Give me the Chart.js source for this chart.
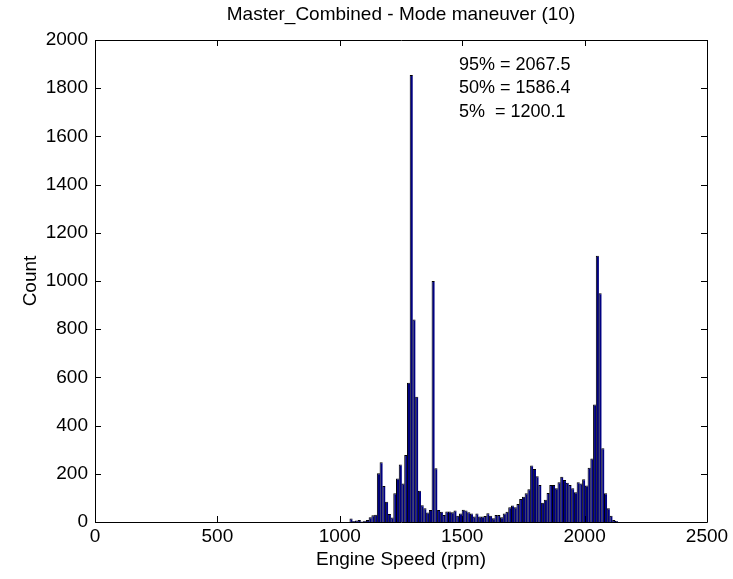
<!DOCTYPE html>
<html>
<head>
<meta charset="utf-8">
<script src="https://cdn.jsdelivr.net/npm/chart.js@4"></script>
<style>
  html, body { margin: 0; padding: 0; background: #fff; }
  #wrap { width: 733px; height: 579px; }
</style>
</head>
<body>
<div id="wrap"><canvas id="histChart" width="733" height="579"></canvas></div>
<script>
// histogram bins (rpm): first bin centre and width
const binStart = 1046;
const binWidth = 11.18;

// counts per bin
const counts = [
  15, 4, 6, 8, 2, 5, 8, 20, 28, 30,
  202, 248, 149, 84, 33, 19, 119, 181, 239, 160,
  278, 578, 1855, 840, 520, 130, 70, 57, 39, 50,
  1000, 223, 50, 43, 29, 44, 44, 40, 48, 26,
  35, 51, 48, 40, 35, 23, 35, 23, 23, 25,
  36, 26, 16, 29, 29, 20, 35, 43, 61, 68,
  61, 75, 95, 105, 119, 136, 234, 220, 190, 154,
  80, 92, 120, 154, 154, 140, 165, 188, 174, 163,
  154, 140, 123, 165, 160, 177, 151, 225, 264, 488,
  1105, 949, 306, 119, 57, 26, 8, 4
];

const xTicks = [0, 500, 1000, 1500, 2000, 2500];
const yTicks = [0, 200, 400, 600, 800, 1000, 1200, 1400, 1600, 1800, 2000];

const titleText = "Master_Combined - Mode maneuver (10)";
const statLines = ["95% = 2067.5", "50% = 1586.4", "5%  = 1200.1"];
const statX = 1487;
const statY = [1895, 1800, 1700];

const FONT = "'Liberation Sans', Arial, Helvetica, sans-serif";

const points = counts.map((c, i) => ({ x: binStart + i * binWidth, y: c }));

// matlab style box with inward ticks, title over the axes and the percentile text
const boxPlugin = {
  id: "boxPlugin",
  afterDraw(chart) {
    const ctx = chart.ctx;
    const a = chart.chartArea;
    const xs = chart.scales.x, ys = chart.scales.y;
    const tl = 6;
    ctx.save();
    ctx.strokeStyle = "#000";
    ctx.lineWidth = 1;
    ctx.beginPath();
    ctx.rect(Math.round(a.left) + 0.5, Math.round(a.top) + 0.5,
             Math.round(a.right - a.left), Math.round(a.bottom - a.top));
    xTicks.forEach(v => {
      const px = Math.round(xs.getPixelForValue(v)) + 0.5;
      ctx.moveTo(px, a.bottom); ctx.lineTo(px, a.bottom - tl);
      ctx.moveTo(px, a.top); ctx.lineTo(px, a.top + tl);
    });
    yTicks.forEach(v => {
      const py = Math.round(ys.getPixelForValue(v)) + 0.5;
      ctx.moveTo(a.left, py); ctx.lineTo(a.left + tl, py);
      ctx.moveTo(a.right, py); ctx.lineTo(a.right - tl, py);
    });
    ctx.stroke();

    ctx.fillStyle = "#000";
    ctx.font = "19px " + FONT;
    ctx.textAlign = "center";
    ctx.textBaseline = "middle";
    ctx.fillText(titleText, (a.left + a.right) / 2, 15);

    ctx.font = "18px " + FONT;
    ctx.textAlign = "left";
    statLines.forEach((t, i) => {
      ctx.fillText(t, xs.getPixelForValue(statX), ys.getPixelForValue(statY[i]));
    });
    ctx.restore();
  }
};

new Chart(document.getElementById("histChart"), {
  type: "bar",
  data: {
    datasets: [{
      data: points,
      backgroundColor: "#000080",
      borderColor: "#000000",
      borderWidth: { top: 1, left: 1, right: 0, bottom: 0 },
      borderSkipped: false,
      barPercentage: 1.15,
      categoryPercentage: 1.0
    }]
  },
  options: {
    responsive: false,
    animation: false,
    devicePixelRatio: 1,
    layout: { padding: { left: 0, right: 26, top: 40, bottom: 0 } },
    plugins: {
      legend: { display: false },
      tooltip: { enabled: false },
      title: { display: false }
    },
    scales: {
      x: {
        type: "linear",
        min: 0,
        max: 2500,
        offset: false,
        grid: { display: false, drawTicks: false },
        border: { display: false },
        ticks: {
          stepSize: 500,
          color: "#000",
          padding: 3,
          maxRotation: 0,
          font: { family: FONT, size: 19 },
          callback: v => String(v)
        },
        title: {
          display: true,
          text: "Engine Speed (rpm)",
          color: "#000",
          font: { family: FONT, size: 19 },
          padding: { top: 0, bottom: 8 }
        },
        afterFit(scale) { scale.height = 57; }
      },
      y: {
        min: 0,
        max: 2000,
        grid: { display: false, drawTicks: false },
        border: { display: false },
        ticks: {
          stepSize: 200,
          color: "#000",
          padding: 7,
          font: { family: FONT, size: 19 },
          callback: v => String(v)
        },
        title: {
          display: true,
          text: "Count",
          color: "#000",
          font: { family: FONT, size: 19 },
          padding: { top: 19, bottom: 0 }
        },
        afterFit(scale) { scale.width = 95; }
      }
    }
  },
  plugins: [boxPlugin]
});
</script>
</body>
</html>
